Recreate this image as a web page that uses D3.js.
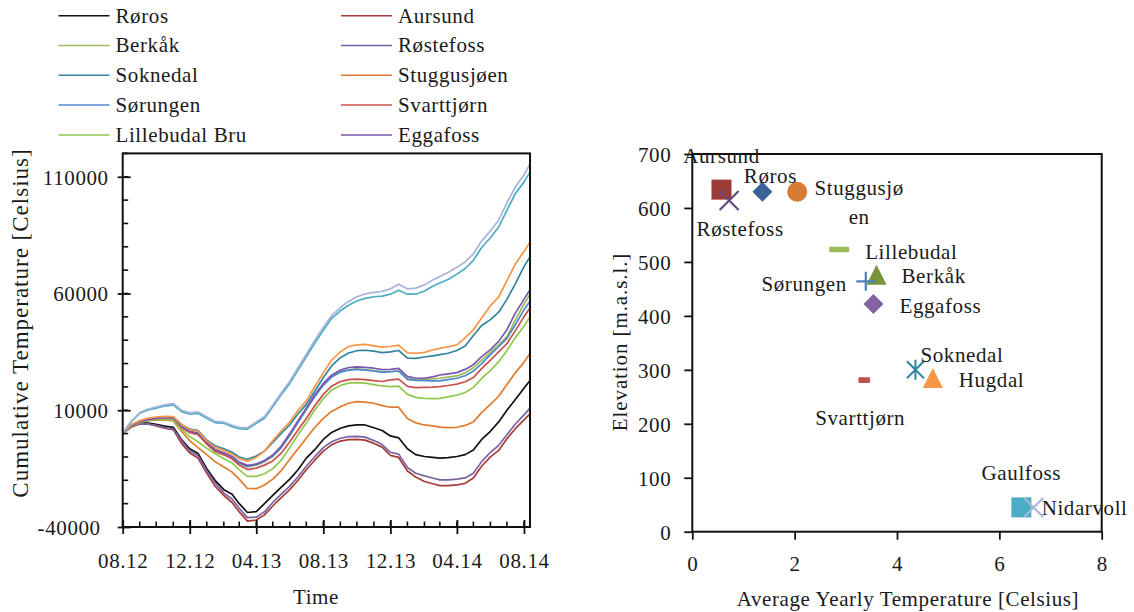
<!DOCTYPE html>
<html>
<head>
<meta charset="utf-8">
<script src="https://cdn.jsdelivr.net/npm/d3@7"></script>
<style>
  body { margin: 0; background: #ffffff; }
  svg text { font-family: "Liberation Serif", "Times New Roman", serif; font-size: 21px; fill: #1a1a1a; letter-spacing: 0.6px; }
</style>
</head>
<body>
<svg id="chart" width="1134" height="612"></svg>
<script>
// ---- Cumulative temperature series (sampled on the 1st and 16th of each month) ----
const sampleDates = [
  "2012-08-01","2012-08-16","2012-09-01","2012-09-16","2012-10-01","2012-10-16",
  "2012-11-01","2012-11-16","2012-12-01","2012-12-16","2013-01-01","2013-01-16",
  "2013-02-01","2013-02-16","2013-03-01","2013-03-16","2013-04-01","2013-04-16",
  "2013-05-01","2013-05-16","2013-06-01","2013-06-16","2013-07-01","2013-07-16",
  "2013-08-01","2013-08-16","2013-09-01","2013-09-16","2013-10-01","2013-10-16",
  "2013-11-01","2013-11-16","2013-12-01","2013-12-16","2014-01-01","2014-01-16",
  "2014-02-01","2014-02-16","2014-03-01","2014-03-16","2014-04-01","2014-04-16",
  "2014-05-01","2014-05-16","2014-06-01","2014-06-16","2014-07-01","2014-07-16",
  "2014-08-01","2014-08-12"
];

const roros = [0,3000,4600,4500,4000,3200,2700,-2500,-6500,-8500,
  -15000,-20000,-24000,-26000,-30000,-33800,-33400,-30000,-26500,-23000,
  -19500,-15500,-10500,-7000,-2500,500,2300,3300,3700,3700,
  2500,1300,-1000,-1800,-6500,-9000,-9800,-10200,-10500,-10300,
  -9800,-9000,-7000,-2500,1000,5000,10000,14500,19400,22700];
const aursund = [0,2700,4100,4100,3300,2300,1700,-4200,-8300,-10500,
  -17000,-22500,-26500,-29500,-33500,-37500,-37000,-34800,-31000,-27500,
  -24000,-20000,-15500,-11500,-7500,-4800,-3200,-2600,-2500,-2800,
  -4200,-5800,-9300,-10200,-16000,-18600,-20500,-21500,-22300,-22300,
  -22000,-21300,-19000,-14000,-10000,-7200,-2200,2000,5900,8400];
const berkak = [0,3300,5100,5900,6400,6700,6600,2900,800,0,
  -4000,-7100,-8600,-10200,-12800,-14300,-13500,-12000,-9800,-6200,
  -800,4800,10300,15800,20800,24300,26400,27400,27700,27400,
  27000,26400,26500,26900,23700,23100,23200,23400,23700,24200,
  24700,26000,28200,31500,34800,38000,41500,48500,55500,59600];
const rostefoss = [0,2800,4200,4100,3500,2600,2000,-3000,-7500,-9500,
  -16000,-21000,-25500,-28000,-32000,-36000,-35800,-33500,-29500,-26000,
  -22500,-18500,-14000,-10000,-6000,-3500,-2000,-1300,-1200,-1500,
  -3000,-4700,-8000,-8800,-14500,-17000,-18100,-19000,-19800,-19800,
  -19500,-19000,-17000,-12000,-8000,-5000,-500,4000,8000,10900];
const soknedal = [0,3600,5400,6300,6800,7100,7000,3900,1900,1300,
  -2800,-5200,-6500,-8000,-10000,-11000,-9600,-7500,-3800,0,
  3800,8500,12500,18000,24000,29000,32500,34500,35500,35700,
  35300,34700,35000,35600,32300,32200,32800,33300,33800,34400,
  35600,37500,42000,46300,48800,52000,57500,64000,71500,75700];
const stuggusjoen = [0,3100,4800,5500,5800,5900,5500,1000,-3000,-6000,
  -9000,-12000,-14300,-16500,-19500,-23500,-23600,-22000,-19500,-16000,
  -11000,-6500,-2000,2500,6500,9500,11500,13000,13700,13500,
  13000,12000,11300,11300,6500,4600,3700,3300,2800,2600,
  2700,3500,5000,9000,12500,16000,21000,26000,30500,34400];
const sorungen = [0,3300,5100,5900,6400,6700,6600,3000,900,100,
  -3900,-6900,-8400,-10000,-12600,-14100,-13300,-11800,-9500,-6000,
  -600,5000,10400,15800,20800,24200,26300,27200,27500,27200,
  26800,26200,26500,26800,23200,22800,22700,22600,22600,23100,
  23700,24800,26800,30000,33800,37200,40800,46500,53000,56700];
const svarttjorn = [0,3200,4900,5700,6100,6300,6200,2600,400,-500,
  -4500,-7600,-9100,-10800,-13600,-15400,-14800,-13500,-11700,-8500,
  -3500,1500,6500,11800,16800,20300,22300,23100,23300,23100,
  22700,22300,23000,23300,20200,19700,19800,19900,20100,20600,
  21200,22200,24000,27800,31500,35000,38500,44000,50000,53800];
const lillebudal = [0,3200,4900,5600,6000,6200,6000,1800,-1300,-3500,
  -6300,-8500,-10800,-12500,-15500,-18300,-18300,-17200,-15000,-11500,
  -6000,-500,4500,10000,15000,18600,20600,21600,21800,21600,
  21000,20400,20100,20300,16800,15500,15100,15000,15100,15700,
  16500,17600,19800,23600,27000,30800,35500,41000,46000,49900];
const eggafoss = [0,3400,5200,6000,6500,6800,6700,3000,1000,200,
  -3800,-6800,-8200,-9800,-12200,-13600,-13000,-11500,-9200,-5500,
  0,5500,11000,16500,21500,25000,27200,28300,28600,28400,
  28000,27400,27500,27900,24500,23700,23700,24300,25100,25600,
  26100,27500,29500,33000,36000,39500,44500,51500,57500,61600];
const hugdal = [0,3800,5600,6600,7100,7400,7300,3800,1700,1000,
  -3200,-5800,-7200,-8800,-10800,-11800,-10200,-7500,-3000,1000,
  5000,10000,14000,20000,26000,31500,35000,37300,38000,38200,
  37600,37000,37300,37900,34600,34400,34800,35800,36500,37200,
  38000,41000,44500,49500,54800,58500,65500,72500,78000,82000];
const gaulfoss = [0,5000,8700,10100,10900,11800,12300,9400,8300,8700,
  6600,4700,4400,3000,2100,1900,4400,6600,11500,16500,
  21500,27200,32900,38600,44300,49300,52600,55000,56800,57900,
  58600,58900,59700,61400,59700,59700,61100,63100,64500,66000,
  68300,70700,74200,79700,83900,88500,95600,102700,107700,112000];
const nidarvoll = [0,5200,9000,10500,11400,12300,12900,10000,8900,9300,
  7200,5300,5000,3600,2700,2500,5000,7300,12200,17300,
  22400,28200,34000,39800,45600,50500,54000,56600,58600,59800,
  60500,60900,62000,64000,62000,62300,63700,65800,67300,69000,
  71200,73500,77000,82500,86800,91500,98800,105600,110800,115500];

const seriesNames = ["Røros","Aursund","Berkåk","Røstefoss","Soknedal","Stuggusjøen",
  "Sørungen","Svarttjørn","Lillebudal Bru","Eggafoss","Hugdal","Gaulfoss","Nidarvoll"];
const seriesValues = [roros, aursund, berkak, rostefoss, soknedal, stuggusjoen,
  sorungen, svarttjorn, lillebudal, eggafoss, hugdal, gaulfoss, nidarvoll];
const seriesColors = ["#111111","#a83c39","#9bbb59","#7b62a3","#31859c","#e07b2e",
  "#4f87cf","#c9504d","#8fc84c","#7a58b0","#f79646","#4bacc6","#a5b4d9"];
const legendCount = 10;

const yTickValues = [-40000, 10000, 60000, 110000];
const xTickLabels = ["08.12","12.12","04.13","08.13","12.13","04.14","08.14"];
const xTickDates = ["2012-08-01","2012-12-01","2013-04-01","2013-08-01","2013-12-01","2014-04-01","2014-08-01"];

// ---- Station averages: temperature vs. elevation ----
const stationNames = ["Aursund","Røstefoss","Røros","Stuggusjø\nen","Lillebudal","Berkåk",
  "Sørungen","Eggafoss","Svarttjørn","Soknedal","Hugdal","Gaulfoss","Nidarvoll"];
const avgTemperature = [0.57, 0.72, 1.37, 2.05, 2.87, 3.60, 3.39, 3.54, 3.36, 4.36, 4.70, 6.43, 6.67];
const elevation = [634, 614, 630, 630, 523, 476, 464, 422, 281, 300, 285, 45, 45];
const scatterXTicks = [0, 2, 4, 6, 8];
const scatterYTicks = [0, 100, 200, 300, 400, 500, 600, 700];

// marker look and label placement for each station (same order as above)
const markerStyle = [
  {shape:"square",   color:"#9c3a38"},
  {shape:"x",        color:"#66497e"},
  {shape:"diamond",  color:"#3a6497"},
  {shape:"circle",   color:"#d67a35"},
  {shape:"dash",     color:"#9bbb59"},
  {shape:"triangle", color:"#77933c"},
  {shape:"plus",     color:"#4f81bd"},
  {shape:"diamond",  color:"#8064a2"},
  {shape:"shortdash",color:"#c0504d"},
  {shape:"asterisk", color:"#31859c"},
  {shape:"triangle", color:"#f79646"},
  {shape:"square",   color:"#4bacc6"},
  {shape:"x",        color:"#a9b8da"}
];
const labelPlacement = [
  {dx:0,   dy:-27, anchor:"middle"},
  {dx:11,  dy:36,  anchor:"middle"},
  {dx:8,   dy:-9,  anchor:"middle"},
  {dx:62,  dy:3,   anchor:"middle"},
  {dx:26,  dy:9,   anchor:"start"},
  {dx:25,  dy:8,   anchor:"start"},
  {dx:-19, dy:10,  anchor:"end"},
  {dx:26,  dy:9,   anchor:"start"},
  {dx:-4,  dy:45,  anchor:"middle"},
  {dx:5,   dy:-8,  anchor:"start"},
  {dx:26,  dy:9,   anchor:"start"},
  {dx:0,   dy:-27, anchor:"middle"},
  {dx:8,   dy:8,   anchor:"start"}
];

const FONT = '"Liberation Serif", "Times New Roman", serif';
const svg = d3.select("#chart");
const parse = d3.utcParse("%Y-%m-%d");

function styleText(sel) {
  sel.attr("font-family", null).attr("font-size", null)
    .style("font-family", FONT).style("font-size", "21px").style("fill", "#1a1a1a");
}

// ================= Left: cumulative temperature over time =================
const L = {left: 122.7, right: 530, top: 153.4, bottom: 527};
const x = d3.scaleUtc()
  .domain([parse("2012-08-01"), parse("2014-08-12")])
  .range([L.left, L.right]);
const y = d3.scaleLinear().domain([-40000, 120000]).range([L.bottom, L.top]);

const gL = svg.append("g");
const dates = sampleDates.map(parse);
const line = d3.line().x((d, i) => x(dates[i])).y(d => y(d));

seriesValues.forEach((vals, k) => {
  gL.append("path")
    .datum(vals)
    .attr("fill", "none")
    .attr("stroke", seriesColors[k])
    .attr("stroke-width", 1.7)
    .attr("stroke-linejoin", "round")
    .attr("d", line);
});

// frame
gL.append("rect")
  .attr("x", L.left).attr("y", L.top)
  .attr("width", L.right - L.left).attr("height", L.bottom - L.top)
  .attr("fill", "none").attr("stroke", "#111").attr("stroke-width", 2);

// y axis: minor ticks inside, major ticks across the axis line
const yMinor = d3.range(-40000, 120001, 10000);
gL.append("g").selectAll("line").data(yMinor).join("line")
  .attr("x1", L.left).attr("x2", L.left + 5.5)
  .attr("y1", d => y(d)).attr("y2", d => y(d))
  .attr("stroke", "#111").attr("stroke-width", 1.6);
const yAxisL = gL.append("g")
  .attr("transform", `translate(${L.left},0)`)
  .call(d3.axisLeft(y).tickValues(yTickValues).tickFormat(d => String(d)).tickSize(0).tickPadding(14));
yAxisL.select(".domain").remove();
yAxisL.selectAll(".tick line").attr("x1", -5).attr("x2", 8).attr("stroke", "#111").attr("stroke-width", 1.8);
yAxisL.selectAll(".tick text").call(styleText).attr("dy", "0.35em").attr("dx", d => d < 0 ? -8 : 0);

// x axis: monthly minor ticks inside, labelled ticks every four months
const xMinor = d3.utcMonth.range(parse("2012-08-01"), parse("2014-08-12"));
gL.append("g").selectAll("line").data(xMinor).join("line")
  .attr("x1", d => x(d)).attr("x2", d => x(d))
  .attr("y1", L.bottom).attr("y2", L.bottom - 5.5)
  .attr("stroke", "#111").attr("stroke-width", 1.6);
const xTicks = xTickDates.map(parse);
const xAxisL = gL.append("g")
  .attr("transform", `translate(0,${L.bottom})`)
  .call(d3.axisBottom(x).tickValues(xTicks)
    .tickFormat((d, i) => xTickLabels[i]).tickSize(0).tickPadding(26));
xAxisL.select(".domain").remove();
xAxisL.selectAll(".tick line").attr("y1", -7).attr("y2", 7).attr("stroke", "#111").attr("stroke-width", 1.8);
xAxisL.selectAll(".tick text").call(styleText);

gL.append("text").attr("x", 316).attr("y", 604).attr("text-anchor", "middle").text("Time").call(styleText);
gL.append("text")
  .attr("transform", "translate(28,323) rotate(-90)")
  .attr("text-anchor", "middle")
  .text("Cumulative Temperature [Celsius]")
  .call(styleText)
  .style("font-size", "23px").style("letter-spacing", "1px");

// legend (first ten series, two columns)
const legend = svg.append("g");
seriesNames.slice(0, legendCount).forEach((name, k) => {
  const col = k % 2, row = Math.floor(k / 2);
  const lx = col === 0 ? 58.5 : 341;
  const ly = 15.7 + row * 29.8;
  legend.append("line")
    .attr("x1", lx).attr("x2", lx + 51).attr("y1", ly).attr("y2", ly)
    .attr("stroke", seriesColors[k]).attr("stroke-width", 1.5);
  legend.append("text").attr("x", lx + 57).attr("y", ly).attr("dy", "0.33em").text(name).call(styleText);
});

// ================= Right: average temperature vs elevation =================
const R = {left: 692.3, right: 1101.7, top: 154, bottom: 531.7};
const sx = d3.scaleLinear().domain([0, 8]).range([R.left, R.right]);
const sy = d3.scaleLinear().domain([0, 700]).range([R.bottom, R.top]);
const gR = svg.append("g");

gR.append("rect")
  .attr("x", R.left).attr("y", R.top)
  .attr("width", R.right - R.left).attr("height", R.bottom - R.top)
  .attr("fill", "none").attr("stroke", "#111").attr("stroke-width", 2);

const yAxisR = gR.append("g").attr("transform", `translate(${R.left},0)`)
  .call(d3.axisLeft(sy).tickValues(scatterYTicks).tickSize(8).tickPadding(13));
yAxisR.select(".domain").remove();
yAxisR.selectAll(".tick line").attr("stroke", "#111").attr("stroke-width", 1.8);
yAxisR.selectAll(".tick text").call(styleText).attr("dy", "0.35em");

const xAxisR = gR.append("g").attr("transform", `translate(0,${R.bottom})`)
  .call(d3.axisBottom(sx).tickValues(scatterXTicks).tickSize(8).tickPadding(16));
xAxisR.select(".domain").remove();
xAxisR.selectAll(".tick line").attr("stroke", "#111").attr("stroke-width", 1.8);
xAxisR.selectAll(".tick text").call(styleText);

gR.append("text").attr("x", 908).attr("y", 606).attr("text-anchor", "middle")
  .text("Average Yearly Temperature [Celsius]").call(styleText);
gR.append("text")
  .attr("transform", "translate(627,342) rotate(-90)")
  .attr("text-anchor", "middle")
  .text("Elevation [m.a.s.l.]").call(styleText).style("letter-spacing", "0.9px");

// marker drawing
function drawMarker(g, cx, cy, style) {
  const c = style.color, h = 10;
  switch (style.shape) {
    case "square":
      g.append("rect").attr("x", cx - h).attr("y", cy - h).attr("width", 2 * h).attr("height", 2 * h).attr("fill", c);
      break;
    case "diamond":
      g.append("path").attr("d", `M${cx},${cy - h}L${cx + h},${cy}L${cx},${cy + h}L${cx - h},${cy}Z`).attr("fill", c);
      break;
    case "circle":
      g.append("circle").attr("cx", cx).attr("cy", cy).attr("r", h).attr("fill", c);
      break;
    case "triangle":
      g.append("path").attr("d", `M${cx},${cy - h}L${cx + h},${cy + h}L${cx - h},${cy + h}Z`).attr("fill", c);
      break;
    case "dash":
      g.append("rect").attr("x", cx - h).attr("y", cy - 2.7).attr("width", 2 * h).attr("height", 5.4).attr("rx", 1).attr("fill", c);
      break;
    case "shortdash":
      g.append("rect").attr("x", cx - 5.8).attr("y", cy - 2.8).attr("width", 11.6).attr("height", 5.6).attr("rx", 1).attr("fill", c);
      break;
    case "x":
      g.append("path").attr("d", `M${cx - 9.5},${cy - 9.5}L${cx + 9.5},${cy + 9.5}M${cx + 9.5},${cy - 9.5}L${cx - 9.5},${cy + 9.5}`)
        .attr("stroke", c).attr("stroke-width", 2.2).attr("fill", "none");
      break;
    case "plus":
      g.append("path").attr("d", `M${cx - 9.5},${cy}L${cx + 9.5},${cy}M${cx},${cy - 9.5}L${cx},${cy + 9.5}`)
        .attr("stroke", c).attr("stroke-width", 2.2).attr("fill", "none");
      break;
    case "asterisk":
      g.append("path").attr("d",
        `M${cx},${cy - 10}L${cx},${cy + 10}M${cx - 8.5},${cy - 8.5}L${cx + 8.5},${cy + 8.5}M${cx + 8.5},${cy - 8.5}L${cx - 8.5},${cy + 8.5}`)
        .attr("stroke", c).attr("stroke-width", 2).attr("fill", "none");
      break;
  }
}

const gPts = gR.append("g");
stationNames.forEach((name, k) => {
  const cx = sx(avgTemperature[k]), cy = sy(elevation[k]);
  drawMarker(gPts, cx, cy, markerStyle[k]);
});
const gLab = gR.append("g");
stationNames.forEach((name, k) => {
  const cx = sx(avgTemperature[k]), cy = sy(elevation[k]);
  const p = labelPlacement[k];
  const t = gLab.append("text")
    .attr("x", cx + p.dx).attr("y", cy + p.dy)
    .attr("text-anchor", p.anchor)
    .call(styleText);
  name.split("\n").forEach((part, j) => {
    t.append("tspan").attr("x", cx + p.dx).attr("dy", j === 0 ? 0 : 29).text(part);
  });
});
</script>
</body>
</html>
